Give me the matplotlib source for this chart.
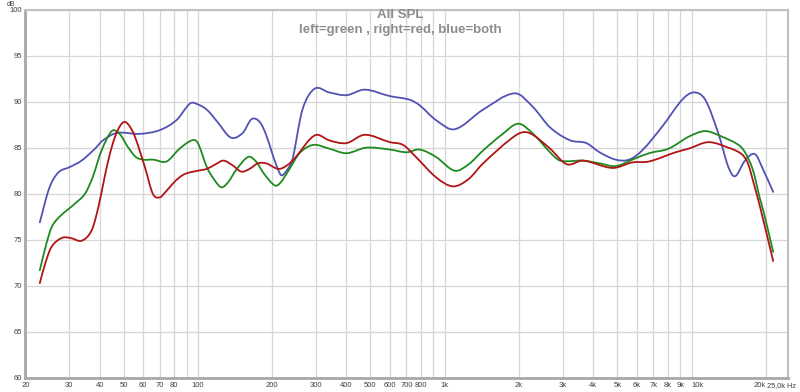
import matplotlib
matplotlib.use("Agg")
import numpy as np
import matplotlib.pyplot as plt
from matplotlib.path import Path
from matplotlib.patches import PathPatch
from matplotlib.ticker import FixedLocator, NullLocator

plt.rcParams["font.family"] = ["Liberation Sans", "DejaVu Sans"]

# ---- data (Hz, dB) ----
blue_f = [22.9, 25.0, 27.2, 30.3, 33.8, 38.0, 41.3, 47.0, 58.0, 70.0, 82.0, 93.0, 100.0,
          109.0, 120.0, 136.0, 152.0, 165.0, 178.0, 189.0, 200.0, 210.0, 218.0, 230.0,
          242.0, 265.0, 297.0, 340.0, 400.0, 474.0, 599.0, 722.0, 791.0, 921.0, 1097.0,
          1425.0, 1924.0, 2280.0, 2670.0, 3217.0, 3745.0, 4238.0, 4928.0, 5577.0, 6302.0,
          7604.0, 9154.0, 10198.0, 11357.0, 12848.0, 14086.0, 15000.0, 16450.0, 18060.0,
          19500.0, 21400.0]
blue_db = [76.9, 80.6, 82.3, 82.9, 83.6, 84.8, 85.8, 86.6, 86.5, 86.9, 88.0, 89.8, 89.7,
           89.1, 87.8, 86.1, 86.6, 88.1, 87.8, 86.4, 84.4, 82.8, 82.0, 82.6,
           83.8, 89.1, 91.4, 91.0, 90.7, 91.3, 90.6, 90.2, 89.6, 88.0, 87.0,
           89.1, 90.9, 89.4, 87.2, 85.8, 85.5, 84.5, 83.7, 83.7, 84.7,
           87.3, 90.2, 91.0, 90.2, 86.5, 82.9, 81.9, 83.6, 84.3,
           82.6, 80.2]

green_f = [22.9, 24.3, 25.6, 27.5, 29.8, 32.0, 34.9, 37.5, 40.6, 44.8, 48.2, 52.0, 56.0,
           60.0, 66.0, 74.6, 84.4, 94.7, 100.0, 108.7, 116.0, 124.6, 133.0, 143.0, 160.0,
           172.0, 185.0, 205.0, 216.0, 234.0, 258.0, 293.0, 340.0, 400.0, 480.0, 599.0,
           700.0, 791.0, 921.0, 1097.0, 1250.0, 1430.0, 1700.0, 1985.0, 2280.0, 2670.0,
           2930.0, 3630.0, 4238.0, 4928.0, 5750.0, 6720.0, 8080.0, 9740.0, 11357.0,
           13260.0, 15490.0, 16450.0, 17700.0, 18900.0, 19500.0, 21400.0]
green_db = [71.7, 74.5, 76.4, 77.5, 78.3, 79.0, 80.0, 81.8, 84.6, 86.8, 86.5, 85.1, 84.0,
            83.7, 83.7, 83.5, 84.9, 85.8, 85.5, 82.9, 81.6, 80.7, 81.3, 82.6, 84.0,
            83.5, 82.2, 80.9, 81.2, 82.6, 84.4, 85.3, 84.9, 84.4, 85.0, 84.8,
            84.5, 84.8, 84.0, 82.5, 83.2, 84.7, 86.4, 87.6, 86.5, 84.5,
            83.6, 83.6, 83.3, 83.0, 83.7, 84.4, 84.9, 86.2, 86.8,
            86.2, 85.3, 84.5, 82.6, 79.5, 78.2, 73.7]

red_f = [22.9, 24.0, 25.5, 28.1, 30.5, 33.8, 37.1, 39.5, 41.9, 44.0, 46.2, 48.5, 50.6,
         53.0, 55.6, 61.0, 65.7, 70.0, 74.0, 79.2, 84.4, 89.6, 100.0, 108.7, 118.0, 127.0,
         138.0, 150.0, 162.0, 175.0, 189.0, 214.0, 242.0, 284.0, 305.0, 340.0, 400.0,
         474.0, 599.0, 678.0, 764.0, 921.0, 1080.0, 1250.0, 1430.0, 1955.0, 2200.0,
         2670.0, 3120.0, 3630.0, 4780.0, 5750.0, 6720.0, 8600.0, 9740.0, 11700.0,
         14086.0, 15950.0, 16900.0, 17900.0, 18920.0, 21400.0]
red_db = [70.3, 72.3, 74.2, 75.2, 75.2, 74.9, 76.0, 78.5, 81.8, 84.3, 86.2, 87.4, 87.8,
          87.3, 86.2, 82.9, 80.0, 79.6, 80.2, 81.1, 81.8, 82.2, 82.5, 82.7, 83.2, 83.6,
          83.1, 82.4, 82.7, 83.3, 83.3, 82.7, 83.6, 85.9, 86.4, 85.8, 85.5,
          86.4, 85.6, 85.3, 84.0, 81.8, 80.8, 81.6, 83.3, 86.4, 86.6,
          84.9, 83.2, 83.6, 82.8, 83.4, 83.5, 84.5, 84.9, 85.6,
          85.0, 84.3, 83.3, 81.0, 78.6, 72.7]

x_ticks = [20, 30, 40, 50, 60, 70, 80, 100, 200, 300, 400, 500, 600, 700, 800,
           1000, 2000, 3000, 4000, 5000, 6000, 7000, 8000, 9000, 10000, 20000]
x_labels = ["20", "30", "40", "50", "60", "70", "80", "100", "200", "300", "400",
            "500", "600", "700", "800", "1k", "2k", "3k", "4k", "5k", "6k", "7k",
            "8k", "9k", "10k", "20k"]
x_grid = [20, 30, 40, 50, 60, 70, 80, 90, 100, 200, 300, 400, 500, 600, 700, 800, 900,
          1000, 2000, 3000, 4000, 5000, 6000, 7000, 8000, 9000, 10000, 20000]
y_ticks = [60, 65, 70, 75, 80, 85, 90, 95, 100]


def smooth_path(freqs, dbs):
    # cubic Hermite through the read points, drawn as Bezier segments in log-frequency
    lx = np.log10(freqs)
    y = np.asarray(dbs, dtype=float)
    n = len(lx)
    m = np.empty(n)
    m[0] = (y[1] - y[0]) / (lx[1] - lx[0])
    m[-1] = (y[-1] - y[-2]) / (lx[-1] - lx[-2])
    for i in range(1, n - 1):
        m[i] = (y[i + 1] - y[i - 1]) / (lx[i + 1] - lx[i - 1])
    verts = [(freqs[0], y[0])]
    codes = [Path.MOVETO]
    for i in range(n - 1):
        h = lx[i + 1] - lx[i]
        c1 = (10 ** (lx[i] + h / 3), y[i] + m[i] * h / 3)
        c2 = (10 ** (lx[i + 1] - h / 3), y[i + 1] - m[i + 1] * h / 3)
        verts += [c1, c2, (freqs[i + 1], y[i + 1])]
        codes += [Path.CURVE4] * 3
    return Path(verts, codes)


fig = plt.figure(figsize=(8.0, 3.92), dpi=100)
ax = fig.add_axes([25.3 / 800, 14 / 392, 762.4 / 800, 368.5 / 392])

ax.set_xscale("log")
ax.set_xlim(20, 24500)
ax.set_ylim(60, 100)

# grid
for g in x_grid:
    ax.axvline(g, color="#d6d6d6", lw=0.9, zorder=0)
for g in y_ticks:
    ax.axhline(g, color="#d6d6d6", lw=0.9, zorder=0)

for fr, db, col, z in [(blue_f, blue_db, "#5252b4", 3),
                       (green_f, green_db, "#1f8a1f", 4),
                       (red_f, red_db, "#b01414", 5)]:
    ax.add_patch(PathPatch(smooth_path(fr, db), fill=False, edgecolor=col,
                           lw=1.3, zorder=z, capstyle="round", joinstyle="round"))

ax.xaxis.set_major_locator(FixedLocator(x_ticks))
ax.xaxis.set_minor_locator(NullLocator())
ax.set_xticklabels(x_labels)
ax.set_yticks(y_ticks)
ax.set_yticklabels([str(v) for v in y_ticks])
ax.tick_params(axis="both", length=0, labelsize=5.5, colors="#404040")
ax.tick_params(axis="x", pad=3)
ax.tick_params(axis="y", pad=2.5)
# 10k starts at its gridline, 20k ends near its gridline (as in the reference)
ax.get_xticklabels()[-2].set_horizontalalignment("left")
ax.get_xticklabels()[-1].set_horizontalalignment("right")

for side in ["top", "right"]:
    ax.spines[side].set_color("#c0c0c0")
    ax.spines[side].set_linewidth(1.5)
for side in ["left", "bottom"]:
    ax.spines[side].set_color("#a8a8a8")
    ax.spines[side].set_linewidth(2.0)

ax.text((767 - 25.3) / 762.4, -0.012, "25,0k Hz", transform=ax.transAxes,
        ha="left", va="top", fontsize=5.3, color="#404040")
fig.text(7 / 800, 1 - 1 / 392, "dB", ha="left", va="top", fontsize=5, color="#404040")

fig.text(0.5, 1 - 9 / 392, "All SPL", ha="center", va="top", fontsize=9.5,
         fontweight="bold", color="#8c8c8c")
fig.text(0.5, 1 - 24 / 392, "left=green , right=red, blue=both", ha="center", va="top",
         fontsize=9.5, fontweight="bold", color="#8c8c8c")

fig.savefig("out.png", dpi=100)
